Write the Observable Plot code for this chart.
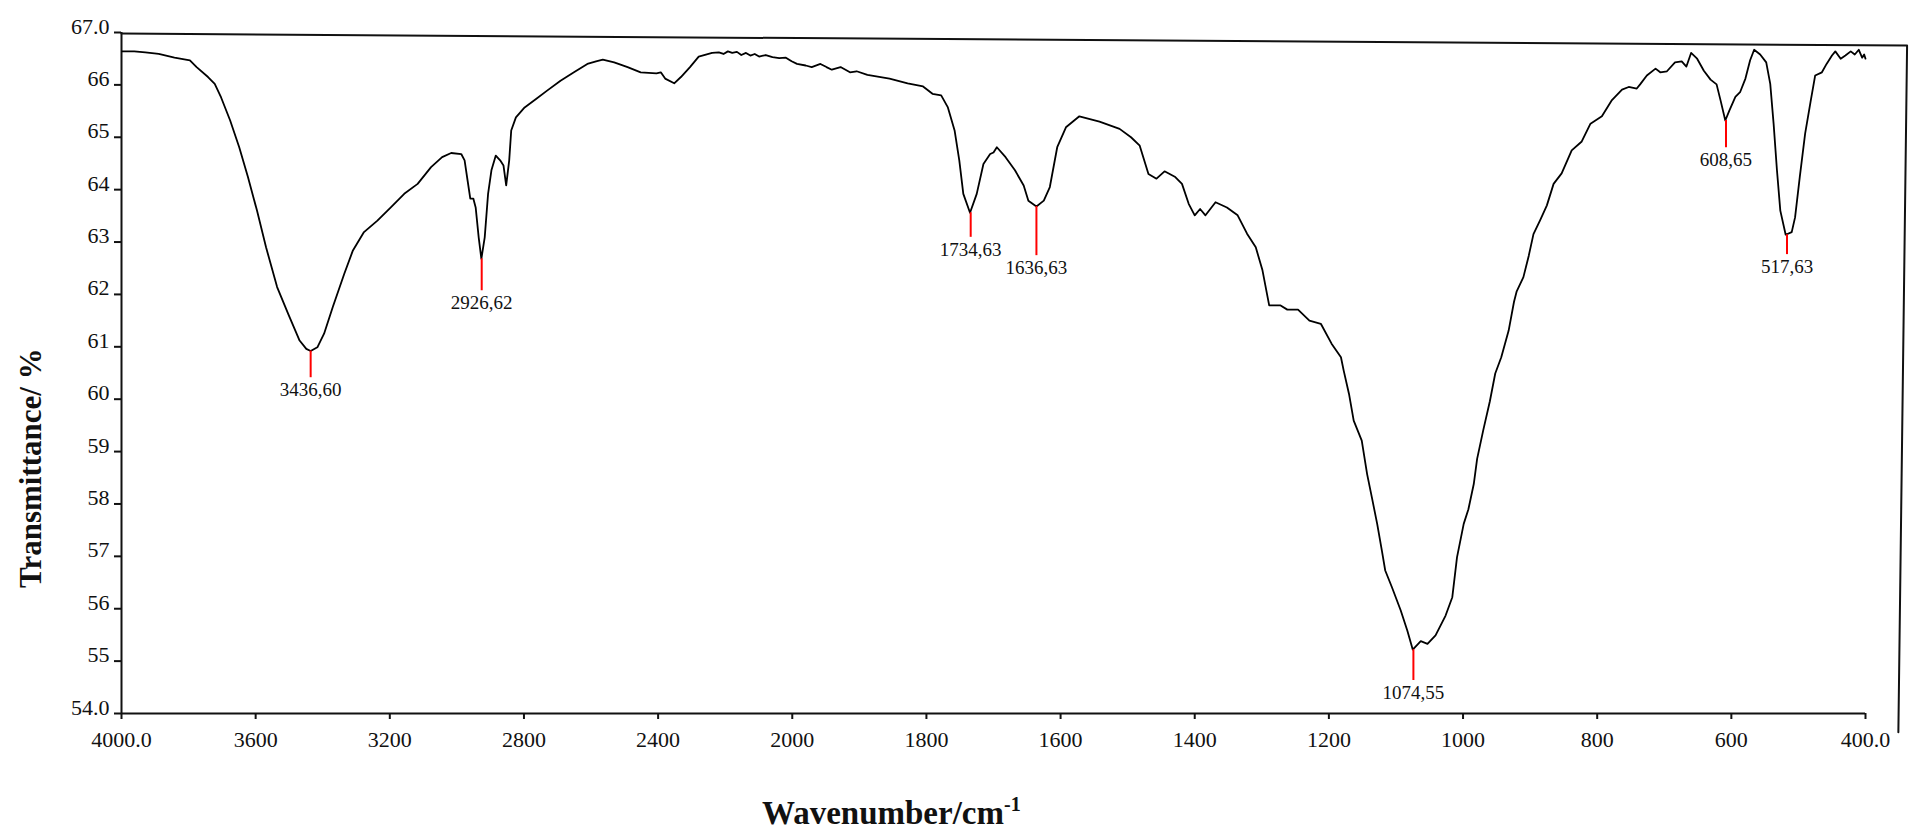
<!DOCTYPE html>
<html><head><meta charset="utf-8">
<script src="https://cdn.jsdelivr.net/npm/d3@7"></script>
<script src="https://cdn.jsdelivr.net/npm/@observablehq/plot@0.6"></script>
<style>
html,body{margin:0;padding:0;background:#fff;}
#wrap{position:relative;width:1910px;height:835px;}
.title{position:absolute;font-family:"Liberation Serif","Times New Roman",serif;font-weight:bold;color:#111;line-height:1;white-space:nowrap;}
</style></head><body>
<div id="wrap"></div>
<script>
// FTIR spectrum
const wavenumber = [3998,3962,3929,3889,3842,3796,3776,3742,3722,3703,3676,3649,3623,3596,3569,3536,3503,3469,3449,3436,3416,3396,3370,3336,3310,3277,3237,3197,3157,3117,3077,3044,3017,2987,2977,2968,2960,2951,2944,2935,2927,2917,2907,2897,2884,2871,2861,2853,2844,2838,2824,2798,2764,2731,2691,2651,2611,2585,2565,2531,2491,2452,2405,2392,2379,2352,2332,2305,2279,2239,2219,2205,2192,2179,2165,2152,2138,2125,2112,2099,2079,2059,2039,2019,2002,1993,1980,1971,1958,1949,1941,1928,1914,1904,1888,1855,1828,1805,1791,1778,1768,1758,1751,1745,1735,1725,1715,1705,1700,1695,1682,1668,1655,1648,1636,1625,1616,1605,1592,1572,1542,1512,1495,1482,1469,1457,1445,1429,1419,1409,1400,1392,1384,1369,1352,1336,1322,1309,1299,1289,1272,1262,1246,1229,1212,1196,1182,1178,1170,1163,1151,1143,1136,1128,1121,1116,1106,1093,1083,1075,1063,1053,1041,1026,1016,1009,999,992,984,979,970,960,952,943,932,924,920,910,902,895,885,875,865,853,838,823,810,793,778,763,753,741,736,726,713,706,696,684,674,667,660,651,641,631,622,616,609,603,594,587,579,572,566,557,548,542,537,532,527,519,510,505,498,490,482,475,465,458,450,445,437,430,422,416,410,405,402,400];
const transmittance = [66.64,66.64,66.62,66.59,66.52,66.47,66.34,66.15,66.02,65.76,65.32,64.81,64.24,63.60,62.90,62.14,61.63,61.12,60.96,60.92,60.99,61.25,61.76,62.39,62.84,63.19,63.41,63.66,63.92,64.11,64.43,64.62,64.70,64.68,64.56,64.17,63.83,63.83,63.66,63.09,62.68,63.09,63.92,64.37,64.65,64.56,64.46,64.08,64.56,65.13,65.38,65.57,65.73,65.89,66.08,66.24,66.40,66.45,66.48,66.43,66.34,66.24,66.22,66.24,66.12,66.03,66.15,66.34,66.54,66.61,66.62,66.59,66.64,66.61,66.63,66.57,66.61,66.56,66.59,66.54,66.57,66.53,66.51,66.52,66.45,66.40,66.37,66.34,66.40,66.34,66.29,66.34,66.24,66.26,66.19,66.12,66.03,65.97,65.83,65.80,65.57,65.13,64.56,63.92,63.56,63.92,64.49,64.68,64.71,64.81,64.62,64.37,64.08,63.79,63.68,63.79,64.05,64.81,65.19,65.40,65.30,65.16,65.00,64.84,64.30,64.21,64.35,64.24,64.11,63.73,63.51,63.63,63.51,63.76,63.66,63.51,63.16,62.90,62.46,61.79,61.79,61.71,61.71,61.50,61.44,61.06,60.80,60.55,60.10,59.59,59.21,58.57,58.13,57.62,57.11,56.73,56.41,55.97,55.58,55.22,55.38,55.33,55.49,55.87,56.22,56.98,57.62,57.90,58.38,58.86,59.40,59.96,60.49,60.80,61.31,61.86,62.06,62.33,62.74,63.15,63.42,63.70,64.11,64.31,64.75,64.92,65.26,65.40,65.71,65.91,65.96,65.93,66.01,66.18,66.31,66.24,66.26,66.43,66.45,66.35,66.61,66.50,66.27,66.10,66.01,65.70,65.32,65.51,65.77,65.86,66.12,66.47,66.67,66.58,66.43,66.02,65.26,64.37,63.60,63.14,63.19,63.47,64.24,65.07,65.67,66.18,66.24,66.40,66.56,66.64,66.50,66.56,66.64,66.58,66.67,66.52,66.58,66.50];

// axis ticks (the wavenumber axis changes scale at 2000)
const xTicks = [4000,3600,3200,2800,2400,2000,1800,1600,1400,1200,1000,800,600,400];
const yTicks = [54,55,56,57,58,59,60,61,62,63,64,65,66,67];

// marked peaks
const peakWavenumber = [3436,2926,1734,1636,1074,608,517];
const peakTop = [60.92,62.68,63.56,63.68,55.22,65.32,63.14];
const peakBottom = [60.41,62.07,63.09,62.74,54.63,64.80,62.76];
const peakLabels = ["3436,60","2926,62","1734,63","1636,63","1074,55","608,65","517,63"];

// skewed outer frame (top and right edges) of the original scan
const frameWavenumber = [4000,338,351];
const frameTransmittance = [66.98,66.75,53.64];

const spectrum = wavenumber.map((w,i)=>({w, t: transmittance[i]}));
const peaks = peakWavenumber.map((w,i)=>({w, top: peakTop[i], bottom: peakBottom[i], label: peakLabels[i]}));
const frame = frameWavenumber.map((w,i)=>({w, t: frameTransmittance[i]}));
const fmtX = d => (d===4000||d===400) ? d.toFixed(1) : String(d);
const fmtY = d => (d===67||d===54) ? d.toFixed(1) : String(d);

const chart = Plot.plot({
  width:1910, height:835,
  marginLeft:121, marginRight:45, marginTop:32, marginBottom:122,
  style:{fontFamily:'"Liberation Serif", "Times New Roman", serif', fontSize:"22px", background:"#fff", color:"#111", overflow:"visible"},
  x:{type:"linear", domain:xTicks},
  y:{type:"linear", domain:[54,67]},
  marks:[
    Plot.ruleX([4000], {stroke:"#111", strokeWidth:2}),
    Plot.ruleY([54], {stroke:"#111", strokeWidth:2}),
    Plot.line(frame, {x:"w", y:"t", stroke:"#111", strokeWidth:2}),
    Plot.axisX(xTicks, {tickFormat:fmtX, tickSize:6, tickPadding:12, fontSize:22, strokeWidth:2, label:null}),
    Plot.axisY(yTicks, {tickSize:7, fill:"none", strokeWidth:2, label:null}),
    Plot.axisY(yTicks, {tickSize:7, tickPadding:5, stroke:"none", dy:-6, fontSize:22, tickFormat:fmtY, label:null}),
    Plot.line(spectrum, {x:"w", y:"t", stroke:"#000", strokeWidth:1.8}),
    Plot.ruleX(peaks, {x:"w", y1:"top", y2:"bottom", stroke:"#ff0000", strokeWidth:2}),
    Plot.text(peaks, {x:"w", y:"bottom", text:"label", lineAnchor:"top", dy:5, fontSize:19, fill:"#111"})
  ]
});
const wrap = document.getElementById("wrap");
wrap.appendChild(chart);

const xt = document.createElement("div");
xt.className = "title";
xt.style.fontSize = "33px";
xt.style.left = "762px";
xt.style.top = "797px";
xt.innerHTML = 'Wavenumber/cm<span style="font-size:20px;position:relative;top:-13px">-1</span>';
wrap.appendChild(xt);

const yt = document.createElement("div");
yt.className = "title";
yt.style.fontSize = "31px";
yt.textContent = "Transmittance/ %";
wrap.appendChild(yt);
const L = yt.offsetWidth;
yt.style.left = "0px"; yt.style.top = "0px";
yt.style.transformOrigin = "0 0";
yt.style.transform = `translate(${41 - 0.8375*31}px, ${468 + L/2}px) rotate(-90deg)`;
</script>
</body></html>
